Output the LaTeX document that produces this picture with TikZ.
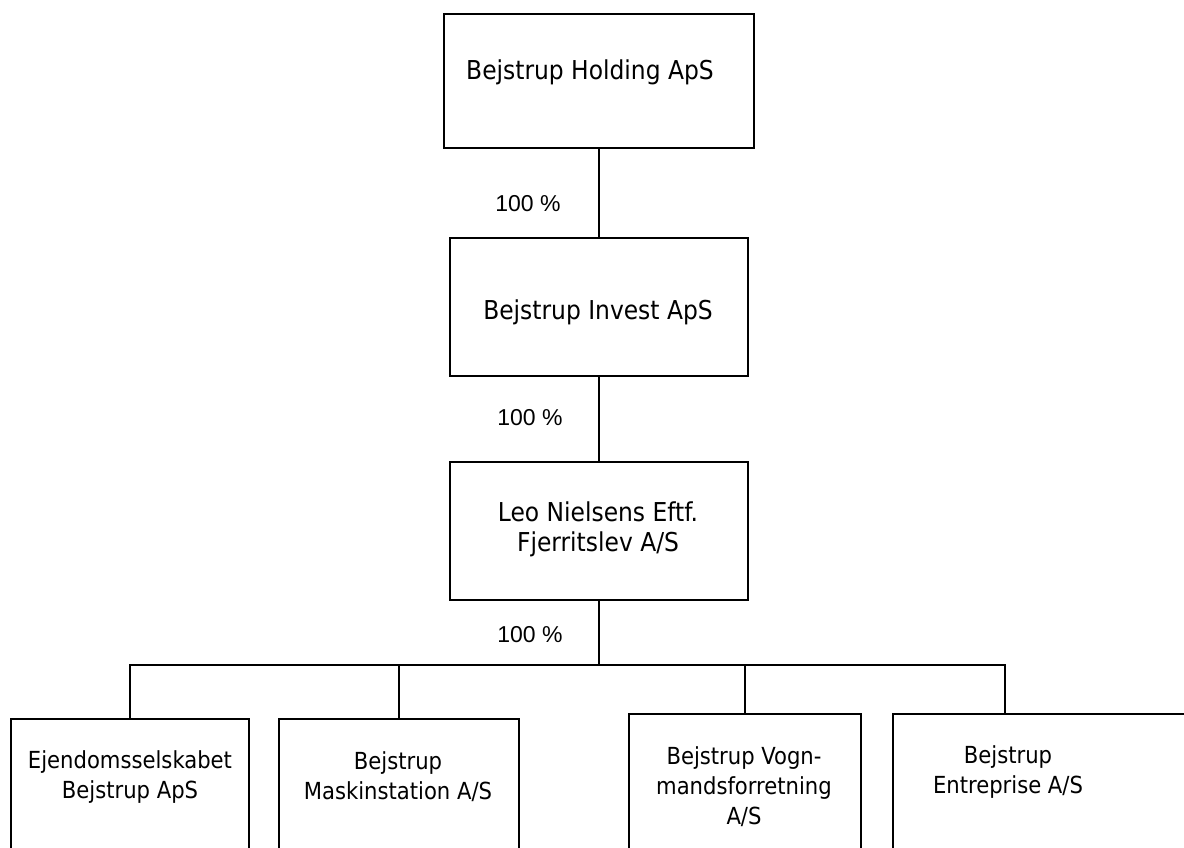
\documentclass[tikz,border=0pt]{standalone}
\usepackage{fontspec}
\setmainfont{DejaVu Sans Condensed}
\newfontfamily\pctfont{Liberation Sans}
\begin{document}
\begin{tikzpicture}[x=1pt,y=-1pt,
  box/.style={draw=black, line width=1.8pt, inner sep=0pt, anchor=north west},
  txt/.style={font=\fontsize{26}{30}\selectfont, align=center, inner sep=0pt},
  stxt/.style={font=\fontsize{23.5}{30}\selectfont, align=center, inner sep=0pt},
  pct/.style={font=\pctfont\fontsize{23}{26}\selectfont, inner sep=0pt},
  conn/.style={draw=black, line width=1.8pt}]
\useasboundingbox (0,0) rectangle (1184,847);
\clip (0,0) rectangle (1184,847);
\fill[white] (0,0) rectangle (1184,847);
% boxes
\node[box, minimum width=310pt, minimum height=134pt] (top) at (443,13) {};
\node[box, minimum width=298pt, minimum height=138pt] (inv) at (449,237) {};
\node[box, minimum width=298pt, minimum height=138pt] (leo) at (449,461) {};
\node[box, minimum width=238pt, minimum height=200pt] (b1) at (10,718) {};
\node[box, minimum width=240pt, minimum height=200pt] (b2) at (278,718) {};
\node[box, minimum width=232pt, minimum height=200pt] (b3) at (628,713) {};
\node[box, minimum width=340pt, minimum height=200pt] (b4) at (892,713) {};
% texts
\node[txt] (ttop) at (590,72) {Bejstrup Holding ApS};
\node[txt] (tinv) at (598,312) {Bejstrup Invest ApS};
\node[txt] (tleo) at (598,529) {Leo Nielsens Eftf.\\Fjerritslev A/S};
\node[stxt] (tb1) at (130,777) {Ejendomsselskabet\\Bejstrup ApS};
\node[stxt] (tb2) at (398,777) {Bejstrup\\Maskinstation A/S};
\node[stxt] (tb3) at (744,787) {Bejstrup Vogn-\\mandsforretning\\A/S};
\node[stxt] (tb4) at (1008,772) {Bejstrup\\Entreprise A/S};
% percentages
\node[pct] (p1) at (528,204) {100 \%};
\node[pct] (p2) at (530,418) {100 \%};
\node[pct] (p3) at (530,635) {100 \%};
% connectors
\coordinate (bus) at (0,665);
\coordinate (b4x) at (1005,713);
\draw[conn] (top.south) -- (inv.north);
\draw[conn] (inv.south) -- (leo.north);
\draw[conn] (leo.south) -- (leo.south |- bus);
\draw[conn] (b1.north) -- (b1.north |- bus) -- (b4x |- bus) -- (b4x);
\draw[conn] (b2.north) -- (b2.north |- bus);
\draw[conn] (b3.north) -- (b3.north |- bus);
\end{tikzpicture}
\end{document}
